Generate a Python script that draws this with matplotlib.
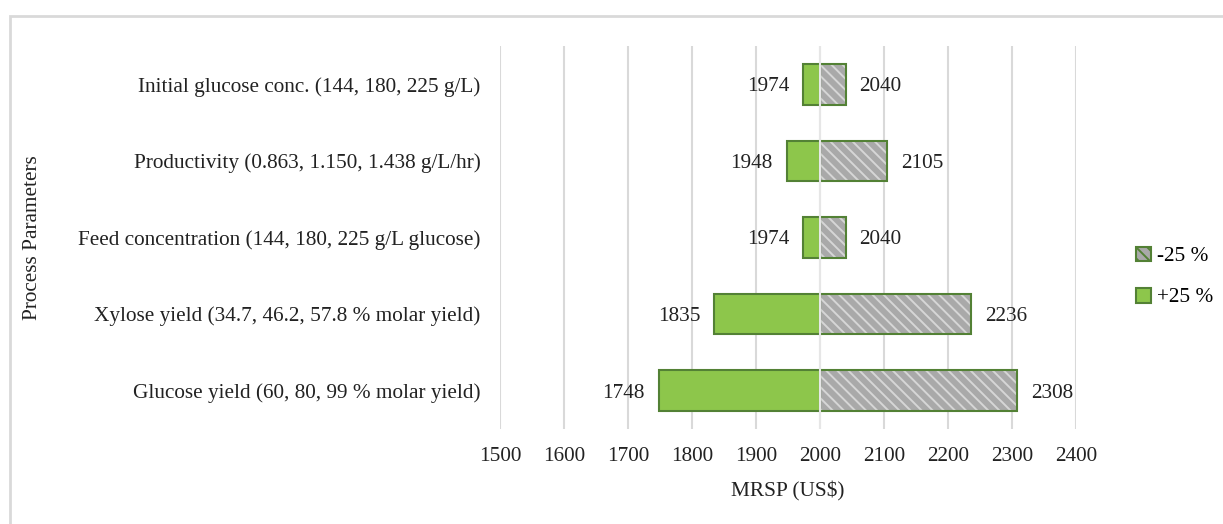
import matplotlib.pyplot as plt
from matplotlib.patches import Patch, Rectangle

# Données (de bas en haut)
parameters = [
    'Glucose yield (60, 80, 99 % molar yield)',
    'Xylose yield (34.7, 46.2, 57.8 % molar yield)',
    'Feed concentration (144, 180, 225 g/L glucose)',
    'Productivity (0.863, 1.150, 1.438 g/L/hr)',
    'Initial glucose conc. (144, 180, 225 g/L)',
]
plus25 = [1748, 1835, 1974, 1948, 1974]
minus25 = [2308, 2236, 2040, 2105, 2040]
base = 2000
xticks = [1500, 1600, 1700, 1800, 1900, 2000, 2100, 2200, 2300, 2400]

plt.rcParams['font.family'] = ['Liberation Serif', 'DejaVu Serif']
plt.rcParams['hatch.linewidth'] = 1.4

green = '#8dc64b'
edge_green = '#538135'
grey_face = '#a9a9a9'
grey_hatch = '#d6d6d6'
txt = '#222222'
fs = 15.3

fig = plt.figure(figsize=(12.23, 5.24), dpi=100)
ax = fig.add_axes([500 / 1223, 1 - 429 / 524, 576 / 1223, 383 / 524])

y = list(range(len(parameters)))
h = 0.53

# Barres -25 % (hachurées)
ax.barh(y, [v - base for v in minus25], left=base, height=h, color=grey_face,
        hatch='\\\\\\', edgecolor=grey_hatch, linewidth=0, zorder=2)
ax.barh(y, [v - base for v in minus25], left=base, height=h, fill=False,
        edgecolor=edge_green, linewidth=1.5, zorder=3)
# Barres +25 %
ax.barh(y, [v - base for v in plus25], left=base, height=h, color=green,
        edgecolor=edge_green, linewidth=1.5, zorder=3)

ax.axvline(base, color='#e6e6e6', linewidth=1.5, zorder=4)

for yi, lo, hi in zip(y, plus25, minus25):
    ax.annotate(str(lo), (lo, yi), xytext=(-10, 0), textcoords='offset points',
                ha='right', va='center_baseline', fontsize=fs, color=txt)
    ax.annotate(str(hi), (hi, yi), xytext=(10, 0), textcoords='offset points',
                ha='left', va='center_baseline', fontsize=fs, color=txt)

ax.set_xlim(1500, 2400)
ax.set_ylim(-0.5, len(parameters) - 0.5)
ax.set_xticks(xticks)
ax.set_yticks(y)
ax.set_yticklabels(parameters)
ax.tick_params(axis='both', length=0, labelsize=fs, colors=txt)
ax.tick_params(axis='x', pad=13)
ax.tick_params(axis='y', pad=14)
ax.grid(axis='x', color='#d9d9d9', linewidth=1.5, zorder=0)
ax.set_axisbelow(True)
for s in ax.spines.values():
    s.set_visible(False)

ax.set_xlabel('MRSP (US$)', fontsize=fs, color=txt, labelpad=11)
fig.text(33 / 1223, 1 - 238 / 524, 'Process Parameters', rotation=90,
         ha='center', va='center', fontsize=fs, color=txt)

# Légende
handles = [
    Patch(facecolor=grey_face, edgecolor=edge_green, hatch='\\\\\\', linewidth=1.5, label='-25 %'),
    Patch(facecolor=green, edgecolor=edge_green, linewidth=1.5, label='+25 %'),
]
fig.legend(handles=handles, loc='center left', bbox_to_anchor=(1117 / 1223, 1 - 277 / 524),
           frameon=False, fontsize=fs, handlelength=0.7, handleheight=0.7,
           handletextpad=0.3, labelspacing=1.0)

# Cadre extérieur
fig.patches.append(Rectangle((10 / 1223, -0.1), 2, 1 - 16 / 524 + 0.1, fill=False,
                             edgecolor='#d9d9d9', linewidth=2, transform=fig.transFigure))

fig.savefig('out.png', dpi=100)
